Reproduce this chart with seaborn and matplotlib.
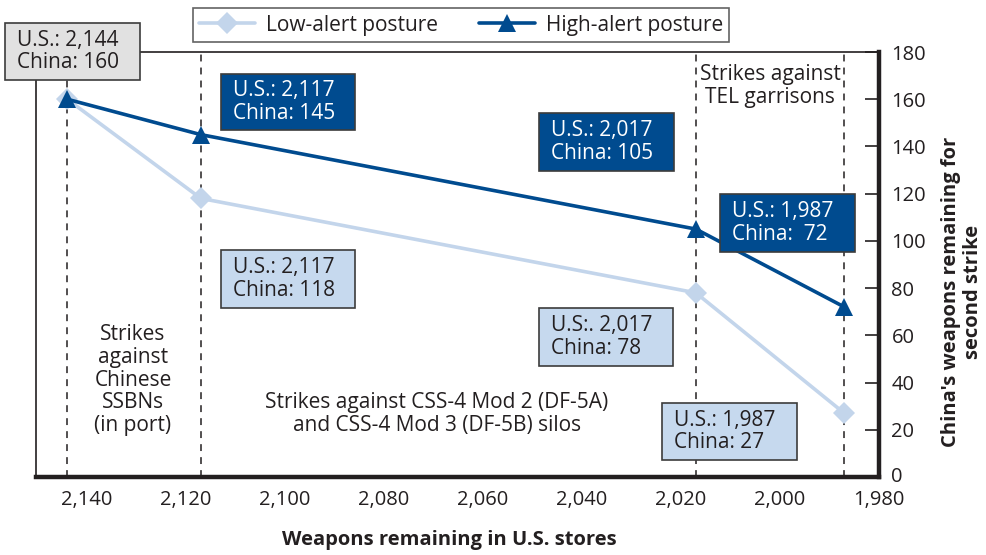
import matplotlib
matplotlib.use("Agg")
import matplotlib.pyplot as plt
from matplotlib.patches import Rectangle
from matplotlib.ticker import FuncFormatter
from matplotlib.transforms import ScaledTranslation
import pandas as pd
import seaborn as sns

# --- data -------------------------------------------------------------
us_remaining = [2144, 2117, 2017, 1987]          # weapons left in U.S. stores
china_low_alert = [160, 118, 78, 27]             # Chinese survivors, low-alert posture
china_high_alert = [160, 145, 105, 72]           # Chinese survivors, high-alert posture
series_names = ["Low-alert posture", "High-alert posture"]
x_ticks = [2140, 2120, 2100, 2080, 2060, 2040, 2020, 2000, 1980]
y_ticks = [0, 20, 40, 60, 80, 100, 120, 140, 160, 180]

phase_labels = [
    "Strikes\nagainst\nChinese\nSSBNs\n(in port)",
    "Strikes against CSS-4 Mod 2 (DF-5A)\nand CSS-4 Mod 3 (DF-5B) silos",
    "Strikes against\nTEL garrisons",
]

# --- styling ----------------------------------------------------------
INK = "#231f20"
DARK = "#004b8f"
LIGHT = "#c3d5eb"
LIGHT_FILL = "#c6d9ee"
GRAY_FILL = "#e1e1e1"

sns.set_style("white")
plt.rcParams["font.family"] = ["Open Sans", "DejaVu Sans"]
plt.rcParams["text.color"] = INK

df = pd.DataFrame({
    "us": us_remaining * 2,
    "china": china_low_alert + china_high_alert,
    "posture": [series_names[0]] * 4 + [series_names[1]] * 4,
})

W, H = 987, 555
fig = plt.figure(figsize=(W / 100, H / 100), dpi=100)
L, R, T, B = 36, 879, 52, 477
ax = fig.add_axes([L / W, (H - B) / H, (R - L) / W, (B - T) / H])

sns.lineplot(
    data=df, x="us", y="china", hue="posture", style="posture",
    palette={series_names[0]: LIGHT, series_names[1]: DARK},
    markers={series_names[0]: "D", series_names[1]: "^"},
    dashes=False, linewidth=2.6, markersize=12, markeredgewidth=0,
    sort=False, ax=ax, legend=True,
)
# slightly larger triangles for the high-alert series
for line in ax.lines:
    if line.get_marker() == "^":
        line.set_markersize(13.5)
    elif line.get_marker() == "D":
        line.set_markersize(11)

handles, labels = ax.get_legend_handles_labels()
ax.get_legend().remove()
for h in handles:
    h.set_markersize(13 if h.get_marker() == "^" else 11)

# phase boundaries
for xv in us_remaining:
    ax.axvline(xv, color=INK, lw=1.1, ls=(0, (4.5, 4)), zorder=1)

ax.set_xlim(2150.3, 1980)
ax.set_ylim(0, 180)
ax.set_xticks(x_ticks)
ax.set_yticks(y_ticks)
ax.xaxis.set_major_formatter(FuncFormatter(lambda v, p: f"{int(round(v)):,}"))

ax.yaxis.tick_right()
ax.tick_params(axis="y", direction="in", length=10, width=1.2, pad=9,
               right=True, left=False, labelright=True, labelleft=False,
               labelsize=14.5, colors=INK)
ax.tick_params(axis="x", direction="in", length=11, width=1.2, pad=9,
               labelsize=14.5, colors=INK)
# nudge the bottom y label up a little so it clears the 1,980 label
zero_label = ax.get_yticklabels()[0]
zero_label.set_transform(zero_label.get_transform()
                         + ScaledTranslation(0, 3 / 100, fig.dpi_scale_trans))

for side, lw in [("left", 1.2), ("top", 1.2), ("right", 3.2), ("bottom", 3.2)]:
    ax.spines[side].set_visible(True)
    ax.spines[side].set_linewidth(lw)
    ax.spines[side].set_color(INK)

ax.set_xlabel("")
ax.set_ylabel("")
fig.text(449 / W, 1 - 540 / H, "Weapons remaining in U.S. stores",
         ha="center", va="center", fontsize=14.5, fontweight="bold", color=INK)
fig.text(962 / W, 1 - 292 / H, "China's weapons remaining for\nsecond strike",
         rotation=90, ha="center", va="center", multialignment="center",
         fontsize=14.5, fontweight="bold", color=INK, linespacing=1.15)


def px_to_axes(px, py):
    return (px - L) / (R - L), (B - py) / (B - T)


# phase descriptions
phase_pos = [(133, 380), (437, 414), (770, 86)]
for text, (px, py) in zip(phase_labels, phase_pos):
    x, y = px_to_axes(px, py)
    ax.text(x, y, text, transform=ax.transAxes, ha="center", va="center",
            multialignment="center", fontsize=15, color=INK, linespacing=1.1,
            zorder=4)

# value callouts: (U.S. value, China value, template, fill, text colour, box px)
callouts = [
    (us_remaining[0], china_high_alert[0], "U.S.: {us:,}\nChina: {cn}", GRAY_FILL, INK, (5, 23, 140, 80)),
    (us_remaining[1], china_high_alert[1], "U.S.: {us:,}\nChina: {cn}", DARK, "white", (221, 74, 355, 130)),
    (us_remaining[2], china_high_alert[2], "U.S.: {us:,}\nChina: {cn}", DARK, "white", (539, 113, 674, 171)),
    (us_remaining[3], china_high_alert[3], "U.S.: {us:,}\nChina:  {cn}", DARK, "white", (720, 194, 855, 252)),
    (us_remaining[1], china_low_alert[1], "U.S.: {us:,}\nChina: {cn}", LIGHT_FILL, INK, (221, 250, 355, 308)),
    (us_remaining[2], china_low_alert[2], "U.S:. {us:,}\nChina: {cn}", LIGHT_FILL, INK, (539, 308, 673, 366)),
    (us_remaining[3], china_low_alert[3], "U.S.: {us:,}\nChina: {cn}", LIGHT_FILL, INK, (662, 403, 797, 460)),
]
for us, cn, tmpl, fill, tcol, (x0, y0, x1, y1) in callouts:
    ax0, ay1 = px_to_axes(x0, y0)
    ax1, ay0 = px_to_axes(x1, y1)
    ax.add_patch(Rectangle((ax0, ay0), ax1 - ax0, ay1 - ay0, transform=ax.transAxes,
                           facecolor=fill, edgecolor="#3c3c3c", lw=1.2,
                           clip_on=False, zorder=5))
    tx, ty = px_to_axes(x0 + 12, (y0 + y1) / 2)
    ax.text(tx, ty, tmpl.format(us=us, cn=cn), transform=ax.transAxes,
            ha="left", va="center", fontsize=15, color=tcol, linespacing=1.12,
            zorder=6, clip_on=False)

leg = fig.legend(handles, labels, loc="center", bbox_to_anchor=(461 / W, 1 - 25 / H),
                 ncol=2, frameon=True, fancybox=False, fontsize=15,
                 handlelength=2.7, columnspacing=2.0, handletextpad=0.5,
                 borderpad=0.3, borderaxespad=0, labelcolor=INK)
leg.get_frame().set_edgecolor("#3c3c3c")
leg.get_frame().set_linewidth(1.2)

fig.savefig("out.png", dpi=100)
